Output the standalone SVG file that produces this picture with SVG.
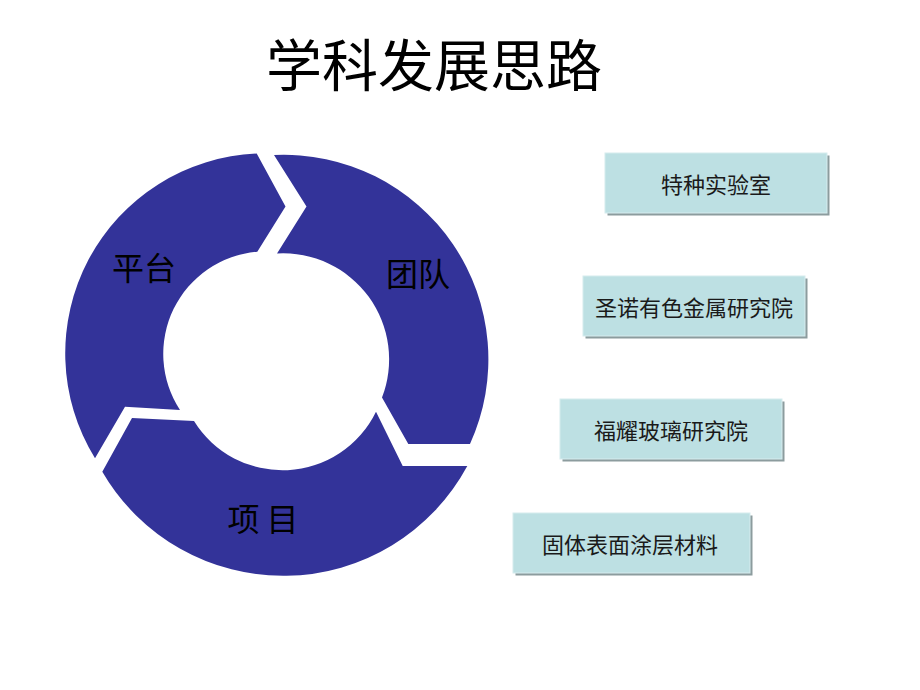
<svg xmlns="http://www.w3.org/2000/svg" width="920" height="690" viewBox="0 0 920 690">
<style>
.seg{fill:#333399;}
.lbl{font-family:"Noto Sans CJK SC","Noto Sans",sans-serif;font-size:32px;fill:#000;text-anchor:middle;}
.title{font-family:"Noto Sans CJK SC","Noto Sans",sans-serif;font-size:56px;fill:#000;text-anchor:middle;}
.box{fill:#BDE0E3;stroke:#D6ECEE;stroke-width:1;}
.shadow{fill:#8C9C9E;}
.btxt{font-family:"Noto Sans CJK SC","Noto Sans",sans-serif;font-size:22px;fill:#1a1a1a;text-anchor:middle;}
</style>
<rect width="920" height="690" fill="#fff"/>
<text class="title" x="434" y="86">学科发展思路</text>
<g id="node-pingtai">
<path class="seg" d="M95,458.3 A200 200 0 0 1 256.7,153.5 L285.5,206.5 L257.3,251.7 A102.5 102.5 0 0 0 180,410 L125,406.7 Z"/>
<text class="lbl" x="144" y="280">平台</text>
</g>
<g id="node-tuandui">
<path class="seg" d="M274,155 A204.5 204.5 0 0 1 470,444 L408.3,444 L382,397.5 A106 106 0 0 0 277,253.5 L306.5,206.5 Z"/>
<text class="lbl" x="418" y="286">团队</text>
</g>
<g id="node-xiangmu">
<path class="seg" d="M467.3,466 A209.2 209.2 0 0 1 102.3,471.7 L132,418 L194,421 A104 104 0 0 0 376,411.7 L402.7,466 Z"/>
<text class="lbl" x="263" y="531">项 目</text>
</g>
<g id="node-box1">
<rect class="shadow" x="607.5" y="155.5" width="222" height="60"/>
<rect class="box" x="605" y="153" width="222" height="60"/>
<text class="btxt" x="716" y="193">特种实验室</text>
</g>
<g id="node-box2">
<rect class="shadow" x="585.5" y="278.5" width="222" height="60"/>
<rect class="box" x="583" y="276" width="222" height="60"/>
<text class="btxt" x="694" y="316">圣诺有色金属研究院</text>
</g>
<g id="node-box3">
<rect class="shadow" x="562.5" y="401.5" width="222" height="60"/>
<rect class="box" x="560" y="399" width="222" height="60"/>
<text class="btxt" x="671" y="439">福耀玻璃研究院</text>
</g>
<g id="node-box4">
<rect class="shadow" x="515.5" y="515.5" width="237" height="60"/>
<rect class="box" x="513" y="513" width="237" height="60"/>
<text class="btxt" x="630" y="553">固体表面涂层材料</text>
</g>
<g id="connectors"></g>
</svg>
